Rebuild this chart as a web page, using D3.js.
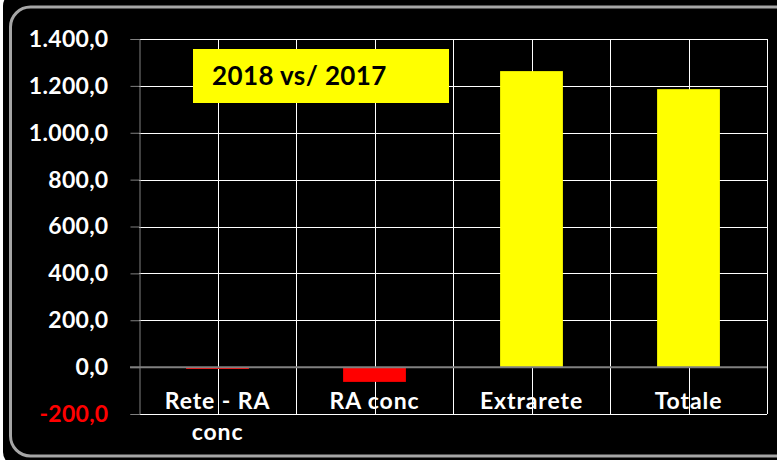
<!DOCTYPE html>
<html>
<head>
<meta charset="utf-8">
<script src="https://cdn.jsdelivr.net/npm/d3@7"></script>
<style>
  html, body { margin: 0; padding: 0; background: #fff; }
  #chart { width: 777px; height: 460px; }
  text { font-family: Lato, "Open Sans", "Liberation Sans", sans-serif; font-weight: bold; }
</style>
</head>
<body>
<div id="chart"></div>
<script>
var width = 777;
var height = 460;

// data
var categories = ["Rete - RA conc", "RA conc", "Extrarete", "Totale"];
var values = [-8, -63, 1263, 1186];
var yTicks = [-200, 0, 200, 400, 600, 800, 1000, 1200, 1400];
var title = "2018 vs/ 2017";

// italian number format: 1.400,0
var it = d3.formatLocale({decimal: ",", thousands: ".", grouping: [3], currency: ["", " €"], minus: "-"});
var fmt = it.format(",.1f");

var svg = d3.select('#chart')
  .append('svg')
    .attr("width", width)
    .attr("height", height);

// frame: black rounded panel with a grey rim
svg.append("rect")
  .attr("x", 3).attr("y", -8)
  .attr("width", width + 20).attr("height", height + 14)
  .attr("rx", 14)
  .attr("fill", "#000");

svg.append("rect")
  .attr("x", 10.5).attr("y", 7)
  .attr("width", width + 20).attr("height", 449)
  .attr("rx", 20)
  .attr("fill", "none")
  .attr("stroke", "#a6a6a6")
  .attr("stroke-width", 3);

var plot = {left: 139, right: 767, top: 39, bottom: 414};

var x = d3.scaleBand()
  .domain(categories)
  .range([plot.left, plot.right])
  .padding(0);

var y = d3.scaleLinear()
  .domain([-200, 1400])
  .range([plot.bottom, plot.top]);

var grid = svg.append("g");

// horizontal gridlines
grid.selectAll("line.h")
  .data(yTicks.filter(d => d !== 0))
  .join("line")
    .attr("class", "h")
    .attr("x1", plot.left).attr("x2", plot.right)
    .attr("y1", d => Math.round(y(d)) + 0.5)
    .attr("y2", d => Math.round(y(d)) + 0.5)
    .attr("stroke", "#fff");

// vertical gridlines: category edges and centres
var vlines = [];
categories.forEach(function(c) {
  vlines.push(x(c) + x.bandwidth() / 2);
  vlines.push(x(c) + x.bandwidth());
});
grid.selectAll("line.v")
  .data(vlines)
  .join("line")
    .attr("class", "v")
    .attr("x1", d => Math.round(d) + 0.5).attr("x2", d => Math.round(d) + 0.5)
    .attr("y1", plot.top).attr("y2", plot.bottom)
    .attr("stroke", "#fff");

// bars
var barW = x.bandwidth() * 0.4;
svg.append("g")
  .selectAll("rect")
  .data(categories.map((c, i) => ({cat: c, value: values[i]})))
  .join("rect")
    .attr("x", d => x(d.cat) + (x.bandwidth() - barW) / 2)
    .attr("y", d => y(Math.max(0, d.value)))
    .attr("width", barW)
    .attr("height", d => Math.abs(y(d.value) - y(0)))
    .attr("fill", d => d.value < 0 ? "#ff0000" : "#ffff00");

// y axis
var yAxis = svg.append("g")
  .attr("transform", "translate(" + (plot.left + 0.5) + ",0)")
  .call(d3.axisLeft(y).tickValues(yTicks).tickFormat(fmt).tickSize(9).tickPadding(22));
yAxis.select(".domain").attr("stroke", "#808080");
yAxis.selectAll(".tick line").attr("stroke", "#808080");
yAxis.selectAll(".tick text")
  .attr("font-size", 23)
  .attr("font-family", null)
  .attr("letter-spacing", 0.3)
  .attr("fill", d => d < 0 ? "#ff0000" : "#fff");

// zero line
svg.append("line")
  .attr("x1", plot.left - 9).attr("x2", plot.right)
  .attr("y1", y(0)).attr("y2", y(0))
  .attr("stroke", "#808080")
  .attr("stroke-width", 2);

// category labels
var labels = svg.append("g")
  .selectAll("text")
  .data(categories)
  .join("text")
    .attr("x", d => x(d) + x.bandwidth() / 2)
    .attr("y", 409)
    .attr("text-anchor", "middle")
    .attr("font-size", 23)
    .attr("letter-spacing", 0.9)
    .attr("fill", "#fff")
    .text(d => d);

function wrap(sel, maxW) {
  sel.each(function() {
    var t = d3.select(this);
    var words = t.text().split(" ");
    if (this.getComputedTextLength() <= maxW) return;
    var cx = t.attr("x");
    t.text(null);
    var line = [];
    var tspan = t.append("tspan").attr("x", cx).attr("dy", 0);
    words.forEach(function(w) {
      line.push(w);
      tspan.text(line.join(" "));
      if (tspan.node().getComputedTextLength() > maxW && line.length > 1) {
        line.pop();
        tspan.text(line.join(" "));
        line = [w];
        tspan = t.append("tspan").attr("x", cx).attr("dy", 31).text(w);
      }
    });
  });
}
labels.call(wrap, 140);

// title box
svg.append("rect")
  .attr("x", 193).attr("y", 49)
  .attr("width", 256).attr("height", 54)
  .attr("fill", "#ffff00");
svg.append("text")
  .attr("x", 212).attr("y", 85)
  .attr("font-size", 26)
  .attr("letter-spacing", 0.4)
  .attr("fill", "#000")
  .text(title);
</script>
</body>
</html>
